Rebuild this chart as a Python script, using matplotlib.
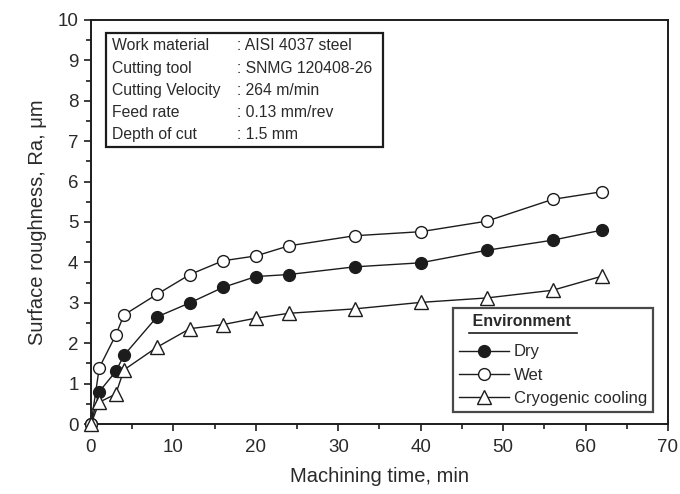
import matplotlib
matplotlib.use('Agg')
import matplotlib.pyplot as plt
from matplotlib.patches import Rectangle
from matplotlib.lines import Line2D

plt.rcParams['font.family'] = ['Liberation Sans', 'DejaVu Sans']

# machining time, min
time_min = [0, 1, 3, 4, 8, 12, 16, 20, 24, 32, 40, 48, 56, 62]
# surface roughness Ra, um
ra_dry = [0, 0.80, 1.30, 1.70, 2.65, 3.00, 3.38, 3.65, 3.70, 3.89, 3.99, 4.30, 4.55, 4.80]
ra_wet = [0, 1.39, 2.20, 2.70, 3.21, 3.70, 4.04, 4.16, 4.41, 4.66, 4.76, 5.02, 5.56, 5.75]
ra_cryo = [0, 0.54, 0.74, 1.34, 1.90, 2.36, 2.46, 2.62, 2.74, 2.85, 3.01, 3.12, 3.31, 3.66]

info_labels = ['Work material', 'Cutting tool', 'Cutting Velocity', 'Feed rate', 'Depth of cut']
info_values = [': AISI 4037 steel', ': SNMG 120408-26', ': 264 m/min', ': 0.13 mm/rev', ': 1.5 mm']

ink = '#1c1c1c'

fig = plt.figure(figsize=(6.8, 4.94), dpi=100)
ax = fig.add_axes([91/680, 1 - 424/494, 577/680, 404/494])

style = dict(color=ink, linewidth=1.0, markersize=8.5, markeredgewidth=1.0,
             markeredgecolor=ink, clip_on=False)
ax.plot(time_min, ra_dry, marker='o', markerfacecolor=ink, label='Dry', zorder=3, **style)
ax.plot(time_min, ra_wet, marker='o', markerfacecolor='white', label='Wet', zorder=3, **style)
ax.plot(time_min, ra_cryo, marker='^', markerfacecolor='white', label='Cryogenic cooling',
        zorder=4, **dict(style, markersize=9.5))

ax.set_xlim(0, 70)
ax.set_ylim(0, 10)
ax.set_xticks(range(0, 71, 10))
ax.set_xticks(range(5, 70, 10), minor=True)
ax.set_yticks(range(0, 11))
ax.set_yticks([i + 0.5 for i in range(10)], minor=True)
ax.tick_params(which='major', direction='out', length=5, width=1.2, colors=ink,
               labelsize=13.5, labelcolor='#2a2a2a')
ax.tick_params(which='minor', direction='out', length=3.5, width=1.2, colors=ink)
ax.tick_params(axis='x', pad=6)
ax.tick_params(axis='y', pad=4)
for sp in ax.spines.values():
    sp.set_linewidth(1.4)
    sp.set_color(ink)

ax.set_xlabel('Machining time, min', fontsize=14.5, color='#2a2a2a', labelpad=8)
ax.set_ylabel('Surface roughness, Ra, \u03bcm', fontsize=14.5, color='#2a2a2a', labelpad=8)

# info box
ax.add_patch(Rectangle((0.026, 0.686), 0.48, 0.282, transform=ax.transAxes,
                       fill=False, edgecolor=ink, linewidth=1.6, zorder=5))
row_y = [0.936, 0.881, 0.826, 0.771, 0.716]
for lab, val, y in zip(info_labels, info_values, row_y):
    ax.text(0.036, y, lab, transform=ax.transAxes, fontsize=11.3, color='#2a2a2a', va='center')
    ax.text(0.253, y, val, transform=ax.transAxes, fontsize=11.3, color='#2a2a2a', va='center')

leg = ax.legend(loc='lower right', bbox_to_anchor=(0.974, 0.03), borderaxespad=0,
                fontsize=12, title='   Environment',
                title_fontproperties={'weight': 'bold', 'size': 11.5},
                alignment='left', handlelength=3.0, handletextpad=0.3, labelspacing=0.5,
                borderpad=0.35, fancybox=False, frameon=True)
leg._legend_box.sep = 11
leg.get_frame().set_edgecolor(ink)
leg.get_frame().set_linewidth(1.6)
for t in leg.get_texts():
    t.set_color('#2a2a2a')
leg.get_title().set_color('#2a2a2a')

fig.canvas.draw()
tb = leg.get_title().get_window_extent()
fig.add_artist(Line2D([tb.x0 + 10, tb.x1 + 6], [tb.y0 - 4, tb.y0 - 4], transform=None,
                      color=ink, linewidth=1.2))

fig.savefig('out.png', dpi=100)
